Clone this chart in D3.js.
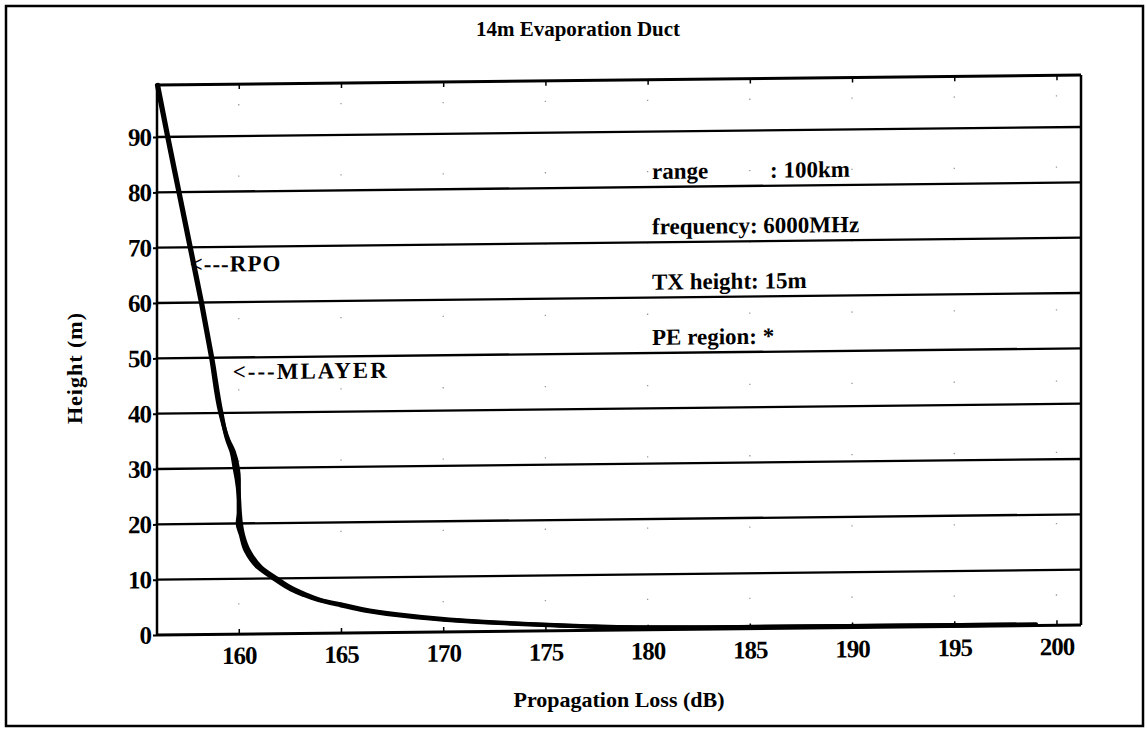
<!DOCTYPE html>
<html>
<head>
<meta charset="utf-8">
<script src="https://cdn.jsdelivr.net/npm/d3@7"></script>
<style>
  html, body { margin: 0; padding: 0; background: #fff; }
  svg { display: block; }
  text { font-family: "Liberation Serif", "Times New Roman", serif; font-weight: bold; fill: #000; }
</style>
</head>
<body>
<svg id="chart" width="1147" height="731"></svg>
<script>
// ---- data ----
const chartTitle = "14m Evaporation Duct";
const xTitle = "Propagation Loss (dB)";
const yTitle = "Height (m)";
const xTicks = [160, 165, 170, 175, 180, 185, 190, 195, 200];
const yTicks = [0, 10, 20, 30, 40, 50, 60, 70, 80, 90];
const heights = [99.4, 90, 80, 70, 60, 50, 40, 35, 33, 30, 28, 25, 22, 20, 18, 15, 12, 10, 8, 7, 6, 5, 4, 3, 2.5, 2, 1.5, 1.2, 0.95, 0.7, 0.45, 0.3, 0.2];
const rpoLoss = [156.05,156.55,157.1,157.65,158.2,158.7,159.15,159.45,159.65,159.8,159.9,160.0,160.05,160.1,160.2,160.5,161.1,161.85,162.7,163.3,164.0,165.2,166.4,168.3,169.5,171.0,173.0,174.5,175.8,177.3,179.5,183.0,199.0];
const mlayerLoss = [156.0,156.5,157.05,157.6,158.15,158.65,159.1,159.5,159.75,159.95,160.0,160.0,160.0,159.95,160.1,160.35,160.95,161.7,162.55,163.15,163.9,165.0,166.2,168.0,169.2,170.7,172.7,174.2,175.5,177.0,179.0,182.5,198.0];
const seriesLabels = ["<---RPO", "<---MLAYER"];
const seriesLabelAt = [[157.6, 67], [159.7, 47.5]];
const infoLabels = ["range", "frequency: 6000MHz", "TX height: 15m", "PE region: *"];
const infoValueRange = ": 100km";
const infoLevels = [80, 70, 60, 50];

// ---- layout ----
const W = 1147, H = 731;
const L = 157, R = 1081, T = 85, B = 635;
const skewK = 10 / 924;

const svg = d3.select("#chart");

// outer border
svg.append("rect").attr("x", 6).attr("y", 6).attr("width", 1137).attr("height", 720)
  .attr("fill", "none").attr("stroke", "#000").attr("stroke-width", 2.5);

svg.append("text").attr("x", 578).attr("y", 36).attr("text-anchor", "middle")
  .style("font-size", "21px").text(chartTitle);

const x = d3.scaleLinear().domain([156, 201.2]).range([L, R]);
const y = d3.scaleLinear().domain([0, 99.4]).range([B, T]);

const g = svg.append("g")
  .attr("transform", `translate(0,${L * skewK}) skewY(${-Math.atan(skewK) * 180 / Math.PI})`);

// faint vertical dotted grid
g.append("g").selectAll("line").data(xTicks).join("line")
  .attr("x1", d => x(d)).attr("x2", d => x(d)).attr("y1", T + 20).attr("y2", B - 8)
  .attr("stroke", "#999").attr("stroke-width", 1.3).attr("stroke-dasharray", "1.3,70");

// horizontal grid lines
g.append("g").selectAll("line").data(yTicks.filter(d => d > 0)).join("line")
  .attr("x1", L).attr("x2", R).attr("y1", d => y(d)).attr("y2", d => y(d))
  .attr("stroke", "#000").attr("stroke-width", 2.3);

// axes
const xAxis = d3.axisBottom(x).tickValues(xTicks).tickSize(-5).tickPadding(12).tickFormat(d3.format("d"));
const xg = g.append("g").attr("transform", `translate(0,${B})`).call(xAxis);
xg.select(".domain").remove();
xg.selectAll("line").attr("stroke", "#000").attr("stroke-width", 1.5);
xg.selectAll("text").style("font-size", "25px").style("font-family", "Liberation Serif").style("font-weight", "bold").attr("letter-spacing", "-1px");

const xTop = d3.axisTop(x).tickValues(xTicks).tickSize(-5).tickFormat("");
const xtg = g.append("g").attr("transform", `translate(0,${T})`).call(xTop);
xtg.select(".domain").remove();
xtg.selectAll("line").attr("stroke", "#000").attr("stroke-width", 1.5);

const yAxis = d3.axisLeft(y).tickValues(yTicks).tickSize(4).tickPadding(2).tickFormat(d3.format("d"));
const yg = g.append("g").attr("transform", `translate(${L},0)`).call(yAxis);
yg.select(".domain").remove();
yg.selectAll("line").attr("stroke", "#000").attr("stroke-width", 2);
yg.selectAll("text").style("font-size", "25px").style("font-family", "Liberation Serif").style("font-weight", "bold").attr("letter-spacing", "-1px");

// frame
g.append("line").attr("x1", L).attr("x2", R).attr("y1", T).attr("y2", T).attr("stroke", "#000").attr("stroke-width", 3);
g.append("line").attr("x1", L).attr("x2", R).attr("y1", B).attr("y2", B).attr("stroke", "#000").attr("stroke-width", 3);
g.append("line").attr("x1", L).attr("x2", L).attr("y1", T).attr("y2", B).attr("stroke", "#000").attr("stroke-width", 2.5);
g.append("line").attr("x1", R).attr("x2", R).attr("y1", T).attr("y2", B).attr("stroke", "#000").attr("stroke-width", 2.5);

// curves
const line = d3.line().x(d => x(d[0])).y(d => y(d[1])).curve(d3.curveMonotoneY);
[rpoLoss, mlayerLoss].forEach(arr => {
  g.append("path").datum(arr.map((v, i) => [v, heights[i]]))
    .attr("d", line).attr("fill", "none").attr("stroke", "#000")
    .attr("stroke-width", 4.2).attr("stroke-linejoin", "round").attr("stroke-linecap", "round");
});

// series labels
seriesLabels.forEach((t, i) => {
  g.append("text").attr("x", x(seriesLabelAt[i][0])).attr("y", y(seriesLabelAt[i][1]))
    .attr("dy", "0.35em").attr("letter-spacing", i === 0 ? "1px" : "2px").style("font-size", "23px").text(t);
});

// info text
infoLabels.forEach((t, i) => {
  g.append("text").attr("x", 652).attr("y", y(infoLevels[i]) - 8)
    .style("font-size", "23px").text(t);
});
g.append("text").attr("x", 770).attr("y", y(infoLevels[0]) - 8).style("font-size", "23px").text(infoValueRange);

// axis titles
svg.append("text").attr("x", 619).attr("y", 707).attr("text-anchor", "middle")
  .style("font-size", "22px").text(xTitle);
svg.append("text").attr("transform", "translate(82,368) rotate(-90)").attr("text-anchor", "middle")
  .attr("letter-spacing", "1px").style("font-size", "22px").text(yTitle);
</script>
</body>
</html>
